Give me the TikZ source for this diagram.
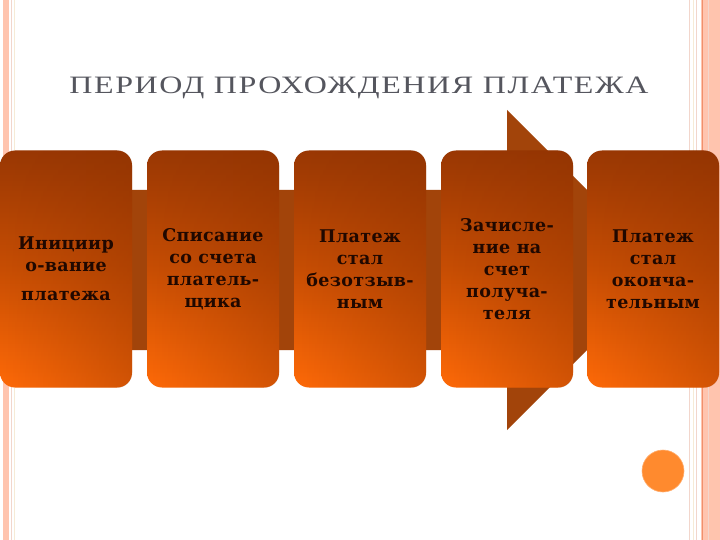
\documentclass[tikz,border=0pt]{standalone}
\usepackage{fontspec}
\setmainfont{Liberation Serif}
\newfontfamily\boxfont[LetterSpace=2]{DejaVu Serif}
\newfontfamily\titlefont[LetterSpace=5]{Liberation Serif}
\usetikzlibrary{fadings}
\definecolor{pinkband}{HTML}{FFC4AE}
\definecolor{pinkline}{HTML}{F2D6CC}
\definecolor{creamline}{HTML}{F6EBD6}
\definecolor{orangeline}{HTML}{F0906C}
\definecolor{arrowc}{HTML}{A2440A}
\definecolor{boxtop}{HTML}{9A3804}
\definecolor{boxmid}{HTML}{C84E04}
\definecolor{boxbot}{HTML}{FF6A08}
\definecolor{boxdark}{HTML}{8A3000}
\definecolor{boxtext}{HTML}{200800}
\definecolor{titlec}{HTML}{55565E}
\definecolor{dotc}{HTML}{FF8A2E}
\tikzfading[name=darkright, left color=transparent!100, right color=transparent!30]
\tikzset{
  stage/.style={minimum width=132pt, minimum height=237pt, rounded corners=15pt,
    top color=boxtop, bottom color=boxbot, middle color=boxmid, inner sep=0pt},
  stagetext/.style={text=boxtext, align=center, font=\boxfont\bfseries\fontsize{17.5}{22}\selectfont},
  darkside/.style={fill=boxdark, path fading=darkright, fill opacity=0.55, rounded corners=15pt}
}
\begin{document}
\begin{tikzpicture}[x=1pt,y=-1pt]
\useasboundingbox (0,0) rectangle (720,540);
\fill[white] (0,0) rectangle (720,540);
% borders
\fill[pinkband] (3,0) rectangle (9,540);
\draw[pinkline, line width=1pt] (11,0) -- (11,540);
\draw[creamline, line width=1pt] (14,0) -- (14,540);
\draw[pinkline, line width=1pt] (689,0) -- (689,540);
\draw[creamline, line width=1pt] (693,0) -- (693,540);
\draw[pinkline, line width=1pt] (696,0) -- (696,540);
\fill[pinkband] (701,0) rectangle (720,540);
\draw[orangeline, line width=1pt] (702,0) -- (702,540);
\draw[pinkline, line width=0.6pt] (708,0) -- (708,540);
% title
\node[font=\titlefont\fontsize{25}{30}\selectfont, text=titlec] (title) at (359,88) {\scalebox{1.28}[1]{ПЕРИОД ПРОХОЖДЕНИЯ ПЛАТЕЖА}};
% big arrow
\coordinate (tip) at (667,270);
\fill[arrowc] (0,190) -- (507,190) -- (507,110) -- (tip) -- (507,430) -- (507,350) -- (0,350) -- cycle;
% boxes
\foreach \i/\x in {1/66,2/213,3/360,4/507,5/653}{
  \node[stage] (b\i) at (\x,269) {};
  \fill[darkside] (b\i.south west) rectangle (b\i.north east);
}
\path[stagetext]
  (b1.center) node (t1) {Инициир\\о-вание\\[7pt]платежа}
  (b2.center) node (t2) {Списание\\со счета\\платель-\\щика}
  (b3.center) node (t3) {Платеж\\стал\\безотзыв-\\ным}
  (b4.center) node (t4) {Зачисле-\\ние на\\счет\\получа-\\теля}
  (b5.center) node (t5) {Платеж\\стал\\оконча-\\тельным};
% dot
\node[circle, fill=dotc, draw=dotc!70!white, line width=0.6pt, minimum size=42pt, inner sep=0pt] (dot) at (663,471) {};
\end{tikzpicture}
\end{document}
